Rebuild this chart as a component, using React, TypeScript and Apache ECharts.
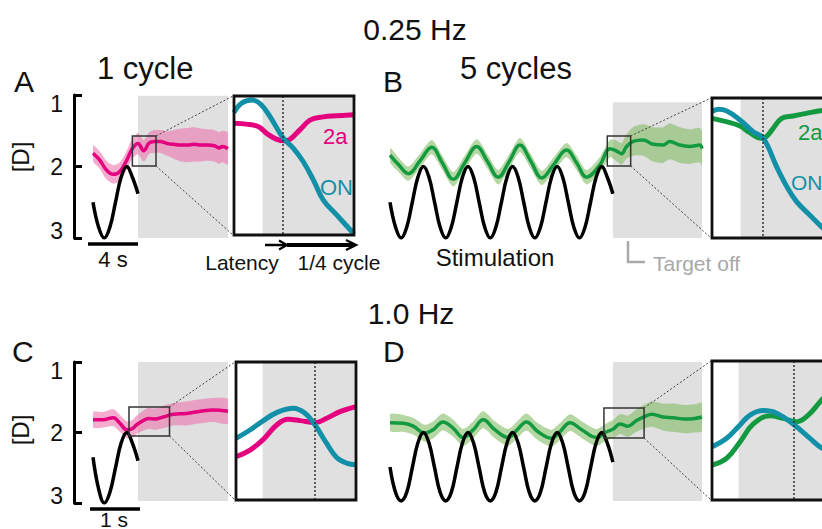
import React, { useEffect, useRef } from 'react';
import * as echarts from 'echarts';

const FONT = '"Liberation Sans", Arial, Helvetica, sans-serif';
const MAGENTA = '#e4007f';
const PINK_BAND = 'rgba(236,112,172,0.58)';
const GREEN = '#139a40';
const GREEN_BAND = 'rgba(128,186,96,0.58)';
const TEAL = '#1290a8';
const GREY = '#dfe0df';

// ---------- Panel A: 0.25 Hz, 1 cycle (time s rel. to target off, accommodation D) ----------
const aTime = [-4, -3.4, -2.8, -2.2, -1.6, -1.0, -0.5, 0, 0.5, 1.0, 1.5, 2.0, 2.6, 3.2, 3.8, 4.4, 5.0, 5.6, 6.2, 6.8, 7.2, 7.5, 8];
const aPink = [1.815, 1.91, 2.05, 2.11, 2.07, 1.91, 1.75, 1.68, 1.78, 1.67, 1.65, 1.65, 1.68, 1.69, 1.70, 1.70, 1.69, 1.70, 1.70, 1.71, 1.74, 1.72, 1.75];
const aErr = [0.11, 0.12, 0.13, 0.13, 0.13, 0.13, 0.14, 0.15, 0.15, 0.15, 0.16, 0.16, 0.17, 0.2, 0.23, 0.24, 0.24, 0.23, 0.22, 0.22, 0.22, 0.22, 0.22];
const aStimTime = [-4, -3.5, -3, -2.5, -2, -1.5, -1, -0.5, 0];
const aStim = [2.5, 2.85, 3.0, 2.85, 2.5, 2.15, 2.0, 2.15, 2.38];

// Inset A
const aIn2aTime = [-0.5, -0.28, -0.07, 0.07, 0.25, 0.39, 0.48, 0.66, 0.83, 1.06, 1.30, 1.6];
const aIn2a = [1.655, 1.658, 1.666, 1.686, 1.704, 1.708, 1.704, 1.674, 1.646, 1.636, 1.633, 1.630];
const aInOnTime = [-0.5, -0.37, -0.19, -0.04, 0.13, 0.36, 0.54, 0.71, 0.89, 1.06, 1.30, 1.6];
const aInOn = [1.623, 1.595, 1.585, 1.597, 1.635, 1.70, 1.731, 1.771, 1.827, 1.887, 1.933, 1.99];

// ---------- Panel B: 0.25 Hz, 5 cycles ----------
const bTime = [-20, -19.2, -18.36, -17.3, -16.26, -15.3, -14.32, -13.3, -12.22, -11.25, -10.29, -9.3, -8.34, -7.35, -6.39, -5.3, -4.15, -3.25, -2.36, -1.17, -0.27, 0.18, 0.78, 1.23, 1.82, 2.72, 3.61, 4.51, 5.11, 6.0, 6.9, 7.8, 8];
const bGreen = [1.84, 1.98, 2.10, 1.92, 1.73, 1.95, 2.18, 1.95, 1.72, 1.93, 2.15, 1.93, 1.70, 1.93, 2.16, 1.97, 1.77, 1.95, 2.15, 1.98, 1.75, 1.77, 1.82, 1.72, 1.65, 1.63, 1.69, 1.70, 1.65, 1.70, 1.72, 1.70, 1.75];
const bErr = [0.1, 0.1, 0.1, 0.1, 0.1, 0.1, 0.1, 0.1, 0.1, 0.1, 0.1, 0.1, 0.1, 0.1, 0.1, 0.1, 0.1, 0.1, 0.1, 0.11, 0.12, 0.14, 0.15, 0.17, 0.2, 0.22, 0.24, 0.25, 0.25, 0.25, 0.24, 0.24, 0.24];
const bStimTime = [-20, -19.5, -19, -18.5, -18, -17.5, -17, -16.5, -16, -15.5, -15, -14.5, -14, -13.5, -13, -12.5, -12, -11.5, -11, -10.5, -10, -9.5, -9, -8.5, -8, -7.5, -7, -6.5, -6, -5.5, -5, -4.5, -4, -3.5, -3, -2.5, -2, -1.5, -1, -0.5, 0];
const bStim = [2.5, 2.85, 3.0, 2.85, 2.5, 2.15, 2.0, 2.15, 2.5, 2.85, 3.0, 2.85, 2.5, 2.15, 2.0, 2.15, 2.5, 2.85, 3.0, 2.85, 2.5, 2.15, 2.0, 2.15, 2.5, 2.85, 3.0, 2.85, 2.5, 2.15, 2.0, 2.15, 2.5, 2.85, 3.0, 2.85, 2.5, 2.15, 2.0, 2.15, 2.38];

// Inset B
const bIn2aTime = [-0.5, -0.25, -0.01, 0.16, 0.37, 0.45, 0.57, 0.72, 0.92, 1.15, 1.39, 1.6];
const bIn2a = [1.634, 1.644, 1.657, 1.677, 1.694, 1.689, 1.664, 1.634, 1.627, 1.619, 1.611, 1.608];
const bInOnTime = [-0.5, -0.39, -0.25, -0.01, 0.22, 0.40, 0.63, 0.81, 0.98, 1.21, 1.42, 1.6];
const bInOn = [1.614, 1.607, 1.611, 1.639, 1.674, 1.694, 1.779, 1.839, 1.884, 1.924, 1.960, 1.99];

// ---------- Panel C: 1.0 Hz, 1 cycle ----------
const cTime = [-1.0, -0.78, -0.55, -0.4, -0.25, -0.14, -0.03, 0.12, 0.23, 0.38, 0.56, 0.79, 1.08, 1.38, 1.67, 2.0];
const cPink = [1.82, 1.82, 1.79, 1.87, 1.96, 1.95, 1.89, 1.83, 1.80, 1.81, 1.78, 1.74, 1.73, 1.70, 1.68, 1.70];
const cErr = [0.11, 0.11, 0.12, 0.12, 0.12, 0.12, 0.13, 0.14, 0.15, 0.15, 0.16, 0.16, 0.17, 0.17, 0.17, 0.17];
const cStimTime = [-1, -0.875, -0.75, -0.625, -0.5, -0.375, -0.25, -0.125, 0];
const cStim = [2.35, 2.8, 3.0, 2.85, 2.5, 2.15, 2.0, 2.15, 2.4];

// Inset C
const cInOnTime = [-0.2, -0.095, 0.005, 0.105, 0.23, 0.318, 0.393, 0.48, 0.555, 0.63, 0.7];
const cInOn = [1.866, 1.841, 1.813, 1.789, 1.776, 1.791, 1.826, 1.881, 1.923, 1.940, 1.945];
const cIn2aTime = [-0.2, -0.095, 0.005, 0.105, 0.19, 0.28, 0.393, 0.48, 0.58, 0.7];
const cIn2a = [1.921, 1.901, 1.869, 1.826, 1.809, 1.813, 1.819, 1.806, 1.786, 1.771];

// ---------- Panel D: 1.0 Hz, 5 cycles ----------
const dTime = [-5, -4.70, -4.48, -4.22, -4.03, -3.81, -3.58, -3.36, -3.13, -2.91, -2.65, -2.35, -2.16, -1.94, -1.68, -1.38, -1.19, -0.96, -0.70, -0.37, -0.14, 0.01, 0.16, 0.34, 0.53, 0.72, 0.87, 1.13, 1.35, 1.61, 1.84, 2.0];
const dGreen = [1.86, 1.87, 1.91, 2.01, 1.96, 1.85, 1.94, 2.07, 1.96, 1.82, 1.96, 2.07, 1.97, 1.85, 1.99, 2.08, 1.99, 1.86, 1.96, 2.07, 1.99, 1.95, 1.88, 1.91, 1.83, 1.77, 1.74, 1.78, 1.79, 1.81, 1.80, 1.78];
const dErr = [0.12, 0.12, 0.12, 0.12, 0.12, 0.12, 0.12, 0.12, 0.12, 0.12, 0.12, 0.12, 0.12, 0.12, 0.12, 0.12, 0.12, 0.12, 0.12, 0.12, 0.12, 0.13, 0.14, 0.15, 0.16, 0.17, 0.18, 0.19, 0.2, 0.2, 0.2, 0.2];
const dStimTime = [-5, -4.875, -4.75, -4.625, -4.5, -4.375, -4.25, -4.125, -4, -3.875, -3.75, -3.625, -3.5, -3.375, -3.25, -3.125, -3, -2.875, -2.75, -2.625, -2.5, -2.375, -2.25, -2.125, -2, -1.875, -1.75, -1.625, -1.5, -1.375, -1.25, -1.125, -1, -0.875, -0.75, -0.625, -0.5, -0.375, -0.25, -0.125, 0];
const dStim = [2.49, 2.85, 2.97, 2.85, 2.5, 2.15, 2.0, 2.15, 2.5, 2.85, 2.97, 2.85, 2.5, 2.15, 2.0, 2.15, 2.5, 2.85, 2.97, 2.85, 2.5, 2.15, 2.0, 2.15, 2.5, 2.85, 2.97, 2.85, 2.5, 2.15, 2.0, 2.15, 2.5, 2.85, 2.97, 2.85, 2.5, 2.15, 2.0, 2.15, 2.42];

// Inset D
const dInOnTime = [-0.2, -0.09, 0.01, 0.085, 0.185, 0.285, 0.417, 0.535, 0.61, 0.7];
const dInOn = [1.915, 1.889, 1.848, 1.818, 1.804, 1.812, 1.848, 1.889, 1.915, 1.935];
const dIn2aTime = [-0.2, -0.09, 0.01, 0.11, 0.235, 0.335, 0.435, 0.522, 0.61, 0.7];
const dIn2a = [1.971, 1.950, 1.900, 1.845, 1.820, 1.828, 1.838, 1.818, 1.777, 1.735];

// axis ranges and markers
const yTicks = [1, 2, 3];
const mainX = [[-4, 8], [-20, 8], [-1, 2], [-5, 2]];
const insetX = [[-0.5, 1.6], [-0.5, 1.6], [-0.2, 0.7], [-0.2, 0.7]];
const insetY = [[1.573, 1.993], [1.573, 1.993], [1.638, 2.05], [1.652, 2.078]];
const greyY = [[1.01, 3], [1.1, 3], [1, 2.97], [1, 2.97]];
const latency = [0.36, 0.375, 0.39, 0.415];

const GRIDS = [
  { left: 93, top: 95, width: 135, height: 143 },
  { left: 234, top: 96, width: 120, height: 139 },
  { left: 390, top: 95, width: 312, height: 143 },
  { left: 712, top: 98, width: 120, height: 140 },
  { left: 93, top: 362, width: 135, height: 141 },
  { left: 236, top: 362, width: 120, height: 138 },
  { left: 390, top: 362, width: 312, height: 141 },
  { left: 712, top: 361, width: 120, height: 139 },
];

const zip = (t: number[], v: number[]) => t.map((x, i) => [x, v[i]]);

function mainSeries(gi: number, p: number, time: number[], mean: number[], err: number[], color: string, band: string, stimT: number[], stim: number[]) {
  const common = { xAxisIndex: gi, yAxisIndex: gi, silent: true };
  return [
    {
      ...common, type: 'custom', z: 2, clip: true,
      data: [[time[0], mean[0]]],
      renderItem: (_params: any, api: any) => {
        const up = time.map((t, i) => api.coord([t, mean[i] - err[i]]));
        const lo = time.map((t, i) => api.coord([t, mean[i] + err[i]])).reverse();
        return { type: 'polygon', shape: { points: up.concat(lo), smooth: 0.25 }, style: { fill: band } };
      },
    },
    {
      ...common, type: 'line', symbol: 'none', smooth: 0.4, data: zip(time, mean), lineStyle: { color, width: 3.5 }, z: 3,
      markArea: {
        silent: true, itemStyle: { color: GREY },
        data: [[{ xAxis: 0, yAxis: greyY[p][0] }, { xAxis: mainX[p][1], yAxis: greyY[p][1] }]],
      },
    },
    { ...common, type: 'line', symbol: 'none', smooth: 0.4, data: zip(stimT, stim), lineStyle: { color: '#000', width: 3.5 }, z: 4 },
  ];
}

function insetSeries(gi: number, p: number, t2a: number[], v2a: number[], tOn: number[], vOn: number[], color: string) {
  const common = { type: 'line', xAxisIndex: gi, yAxisIndex: gi, symbol: 'none', smooth: 0.4, silent: true };
  return [
    {
      ...common, data: zip(t2a, v2a), lineStyle: { color, width: 5 }, z: 3,
      markArea: {
        silent: true, itemStyle: { color: GREY },
        data: [[{ xAxis: 0, yAxis: insetY[p][0] }, { xAxis: insetX[p][1], yAxis: insetY[p][1] }]],
      },
      markLine: {
        silent: true, symbol: ['none', 'none'], label: { show: false },
        lineStyle: { color: '#333', type: [2, 2], width: 1.5 },
        data: [{ xAxis: latency[p] }],
      },
    },
    { ...common, data: zip(tOn, vOn), lineStyle: { color: TEAL, width: 5 }, z: 4 },
  ];
}

function txt(text: string, x: number, y: number, size: number, opts: any = {}) {
  return {
    type: 'text', x, y, z: 50, rotation: opts.rotation || 0, silent: true,
    style: {
      text, fontSize: size, fontFamily: FONT, fill: opts.color || '#111',
      align: opts.align || 'left', verticalAlign: 'middle',
    },
  };
}

export default function App() {
  const ref = useRef<HTMLDivElement>(null);
  useEffect(() => {
    const chart = echarts.init(ref.current!, null, { renderer: 'svg' });
    const xAxis: any[] = [];
    const yAxis: any[] = [];
    GRIDS.forEach((_, gi) => {
      const p = Math.floor(gi / 2);
      const inset = gi % 2 === 1;
      xAxis.push({ type: 'value', gridIndex: gi, show: false, min: inset ? insetX[p][0] : mainX[p][0], max: inset ? insetX[p][1] : mainX[p][1] });
      if (inset) {
        yAxis.push({ type: 'value', gridIndex: gi, show: false, inverse: true, min: insetY[p][0], max: insetY[p][1] });
      } else {
        const withAxis = p === 0 || p === 2;
        yAxis.push({
          type: 'value', gridIndex: gi, show: withAxis, inverse: true, min: yTicks[0], max: yTicks[yTicks.length - 1], interval: 1,
          position: 'left', offset: 19,
          splitLine: { show: false },
          axisLine: { show: true, onZero: false, lineStyle: { color: '#000', width: 3 } },
          axisTick: { show: true, inside: true, length: 8, lineStyle: { color: '#000', width: 3 } },
          axisLabel: {
            margin: 11, color: '#111', fontSize: 23, fontFamily: FONT,
            formatter: (v: number) => (v === yTicks[0] ? '{lo|' + v + '}' : v === yTicks[2] ? '{hi|' + v + '}' : '{mid|' + v + '}'),
            rich: {
              lo: { fontSize: 23, fontFamily: FONT, color: '#111', padding: [18, 0, 0, 0] },
              mid: { fontSize: 23, fontFamily: FONT, color: '#111' },
              hi: { fontSize: 23, fontFamily: FONT, color: '#111', padding: [0, 0, 14, 0] },
            },
          },
        });
      }
    });

    const series = [
      ...mainSeries(0, 0, aTime, aPink, aErr, MAGENTA, PINK_BAND, aStimTime, aStim),
      ...insetSeries(1, 0, aIn2aTime, aIn2a, aInOnTime, aInOn, MAGENTA),
      ...mainSeries(2, 1, bTime, bGreen, bErr, GREEN, GREEN_BAND, bStimTime, bStim),
      ...insetSeries(3, 1, bIn2aTime, bIn2a, bInOnTime, bInOn, GREEN),
      ...mainSeries(4, 2, cTime, cPink, cErr, MAGENTA, PINK_BAND, cStimTime, cStim),
      ...insetSeries(5, 2, cIn2aTime, cIn2a, cInOnTime, cInOn, MAGENTA),
      ...mainSeries(6, 3, dTime, dGreen, dErr, GREEN, GREEN_BAND, dStimTime, dStim),
      ...insetSeries(7, 3, dIn2aTime, dIn2a, dInOnTime, dInOn, GREEN),
    ];

    chart.setOption({
      animation: false,
      backgroundColor: '#fff',
      grid: GRIDS.map((g) => ({ ...g, containLabel: false, outerBoundsMode: 'none' })),
      xAxis, yAxis, series,
    });

    const graphics: any[] = [];
    // inset frames, zoom boxes and connectors
    for (let p = 0; p < 4; p++) {
      const mg = 2 * p;
      const ig = GRIDS[2 * p + 1];
      const c1 = chart.convertToPixel({ xAxisIndex: mg, yAxisIndex: mg }, [insetX[p][0], insetY[p][0]]) as number[];
      const c2 = chart.convertToPixel({ xAxisIndex: mg, yAxisIndex: mg }, [insetX[p][1], insetY[p][1]]) as number[];
      graphics.push({
        type: 'rect', z: 60, silent: true,
        shape: { x: c1[0], y: c1[1], width: c2[0] - c1[0], height: c2[1] - c1[1] },
        style: { fill: 'none', stroke: '#333', lineWidth: 1.5 },
      });
      graphics.push({ type: 'line', z: 60, silent: true, shape: { x1: c2[0], y1: c1[1], x2: ig.left - 1, y2: ig.top }, style: { stroke: '#444', lineWidth: 1, lineDash: [2, 2] } });
      graphics.push({ type: 'line', z: 60, silent: true, shape: { x1: c2[0], y1: c2[1], x2: ig.left - 1, y2: ig.top + ig.height }, style: { stroke: '#444', lineWidth: 1, lineDash: [2, 2] } });
      graphics.push({
        type: 'rect', z: 61, silent: true,
        shape: { x: ig.left, y: ig.top, width: ig.width, height: ig.height },
        style: { fill: 'none', stroke: '#111', lineWidth: 2.8 },
      });
    }
    // scale bars
    graphics.push({ type: 'line', z: 60, silent: true, shape: { x1: 88, y1: 244, x2: 138, y2: 244 }, style: { stroke: '#000', lineWidth: 3.5 } });
    graphics.push({ type: 'line', z: 60, silent: true, shape: { x1: 90, y1: 509, x2: 140, y2: 509 }, style: { stroke: '#000', lineWidth: 3.5 } });
    // arrows under inset A
    graphics.push({ type: 'line', z: 60, silent: true, shape: { x1: 265, y1: 245, x2: 285, y2: 245 }, style: { stroke: '#000', lineWidth: 2.5 } });
    graphics.push({ type: 'polyline', z: 60, silent: true, shape: { points: [[279, 240.5], [287, 245], [279, 249.5]] }, style: { stroke: '#000', lineWidth: 2.2, fill: 'none' } });
    graphics.push({ type: 'line', z: 60, silent: true, shape: { x1: 287, y1: 245, x2: 354, y2: 245 }, style: { stroke: '#000', lineWidth: 4 } });
    graphics.push({ type: 'polyline', z: 60, silent: true, shape: { points: [[346, 240], [356, 245], [346, 250]] }, style: { stroke: '#000', lineWidth: 2.4, fill: 'none' } });
    // target off bracket
    graphics.push({ type: 'polyline', z: 60, silent: true, shape: { points: [[628, 241], [628, 262], [645, 262]] }, style: { stroke: '#aaa', lineWidth: 2.5, fill: 'none' } });

    // texts
    graphics.push(txt('0.25 Hz', 415, 29, 30, { align: 'center' }));
    graphics.push(txt('1 cycle', 97, 68, 31));
    graphics.push(txt('5 cycles', 460, 68, 31));
    graphics.push(txt('A', 14, 81, 30));
    graphics.push(txt('B', 383, 81, 30));
    graphics.push(txt('1.0 Hz', 411, 313, 30, { align: 'center' }));
    graphics.push(txt('C', 12, 351, 30));
    graphics.push(txt('D', 383, 351, 30));
    graphics.push(txt('[D]', 20, 157, 24, { align: 'center', rotation: Math.PI / 2 }));
    graphics.push(txt('[D]', 20, 430, 24, { align: 'center', rotation: Math.PI / 2 }));
    graphics.push(txt('2a', 323, 136, 22, { color: MAGENTA }));
    graphics.push(txt('ON', 320, 187, 22, { color: TEAL }));
    graphics.push(txt('2a', 798, 132, 22, { color: GREEN }));
    graphics.push(txt('ON', 791, 182, 21, { color: TEAL }));
    graphics.push(txt('Latency', 242, 262, 21, { align: 'center' }));
    graphics.push(txt('1/4 cycle', 339, 262, 21, { align: 'center' }));
    graphics.push(txt('Stimulation', 495, 257, 24, { align: 'center' }));
    graphics.push(txt('Target off', 653, 263, 21, { color: '#a8a8a8' }));
    graphics.push(txt('4 s', 113, 259, 22, { align: 'center' }));
    graphics.push(txt('1 s', 114, 519, 21, { align: 'center' }));

    chart.setOption({ graphic: graphics });
    return () => chart.dispose();
  }, []);
  return <div ref={ref} style={{ position: 'fixed', left: 0, top: 0, width: 822, height: 529 }} />;
}
